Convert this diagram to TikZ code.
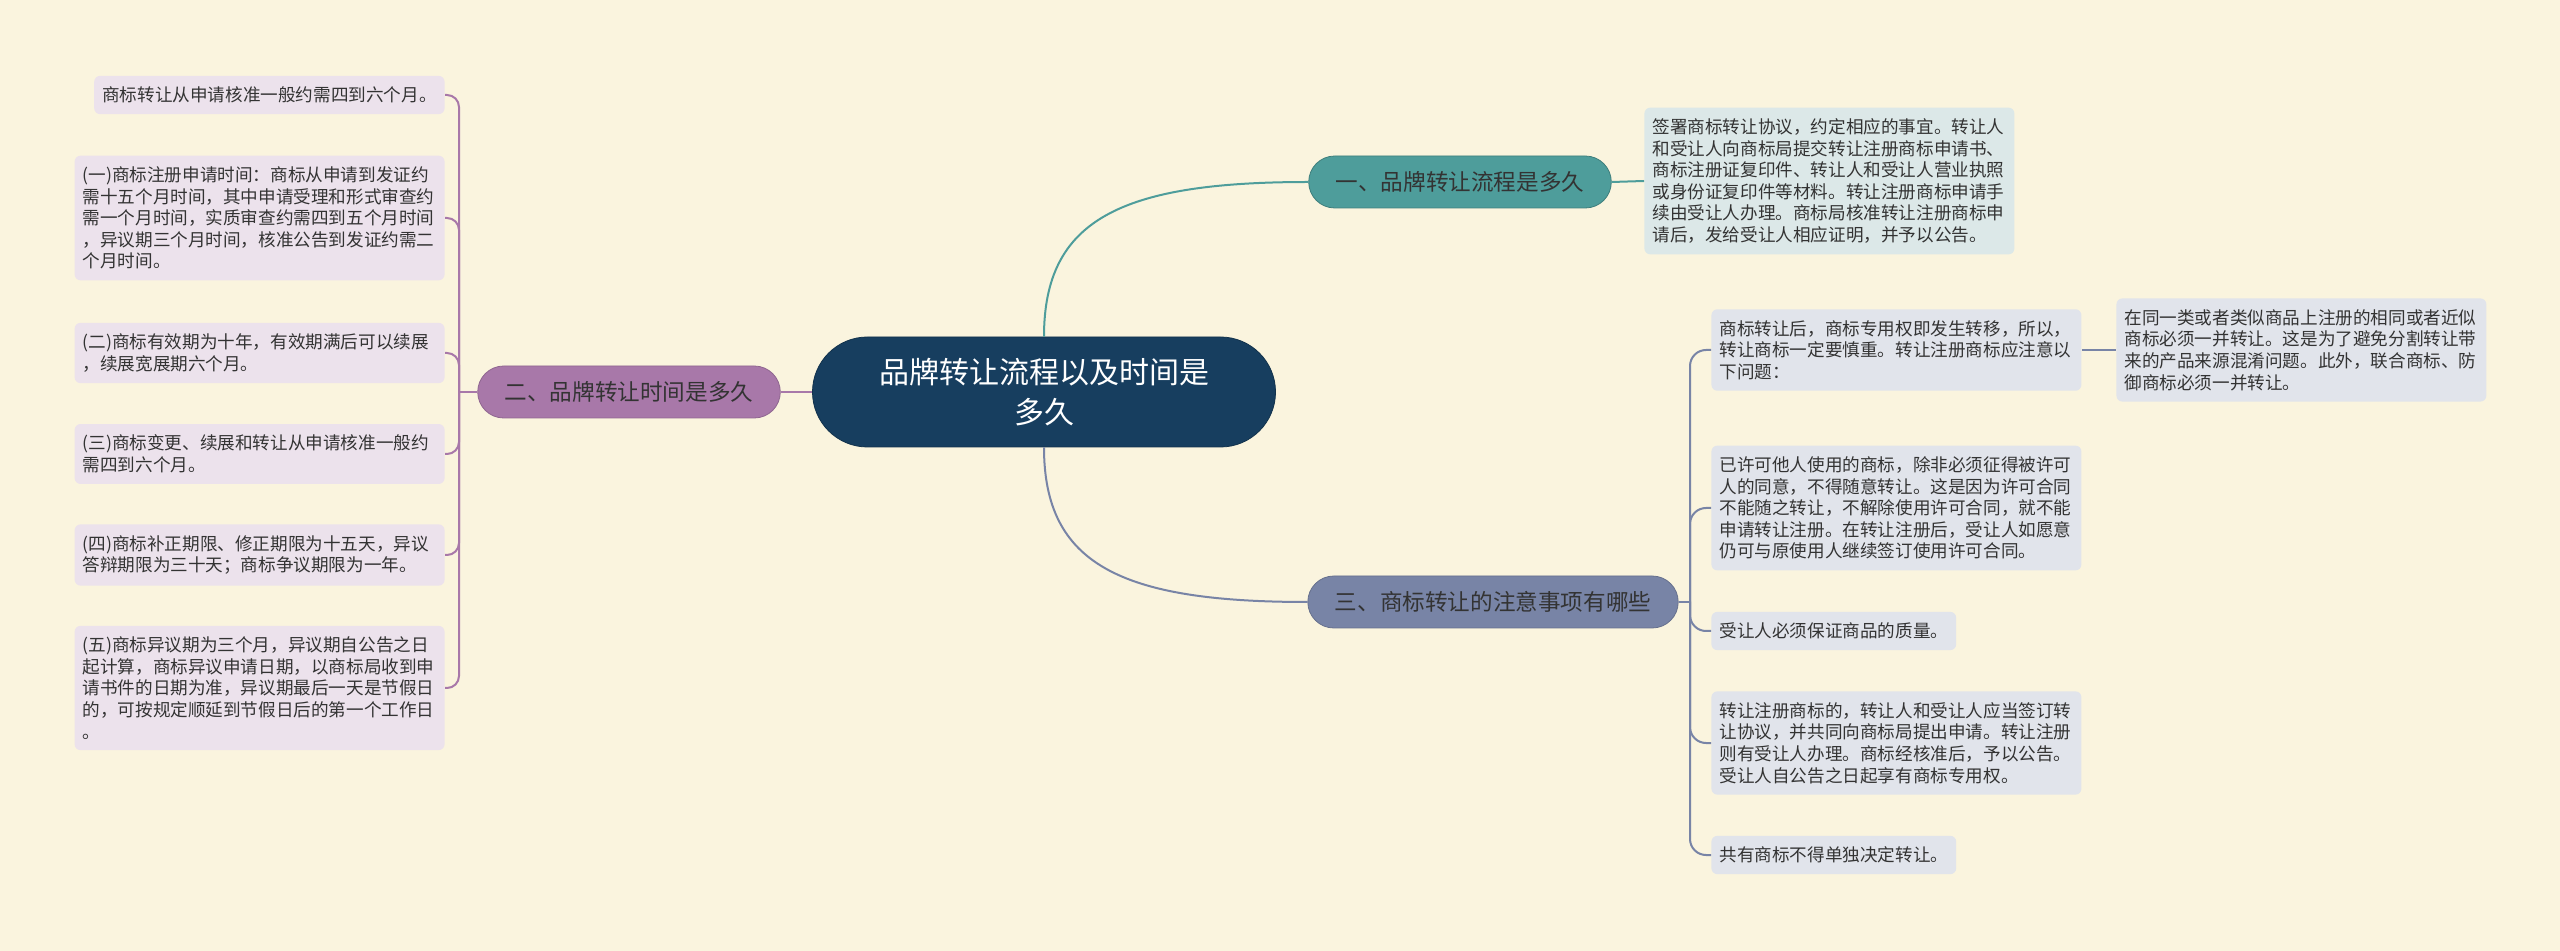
\documentclass[tikz,border=0pt]{standalone}
\usepackage{fontspec}
\setmainfont{Noto Sans CJK SC}
\definecolor{paper}{HTML}{FAF4DE}
\definecolor{navy}{HTML}{173E5F}
\definecolor{tealb}{HTML}{4E9D9B}
\definecolor{purpb}{HTML}{A878A9}
\definecolor{slateb}{HTML}{7884A6}
\definecolor{leafp}{HTML}{ECE2EC}
\definecolor{leaft}{HTML}{DCE8E8}
\definecolor{leafs}{HTML}{E1E4EB}
\definecolor{ink}{HTML}{333333}
\begin{document}
\begin{tikzpicture}[x=.5pt,y=-.5pt,
  leaf/.style={rounded corners=3pt,inner xsep=4pt,inner ysep=5.5pt,align=left,text=ink,font=\fontsize{8.8}{10.8}\selectfont},
  wide/.style={leaf,text width=177pt},
  branch/.style={rounded corners=13pt,minimum height=26pt,inner xsep=13.5pt,text=ink,font=\fontsize{11.3}{13}\selectfont},
  link/.style={line width=1pt}]
\fill[paper] (0,0) rectangle (2560,951);
\useasboundingbox (0,0) rectangle (2560,951);
% centre and main branches
\node[fill=navy,draw=navy!80!black,rounded corners=27.5pt,minimum width=231.5pt,minimum height=55pt,align=center,text=white,font=\fontsize{15}{20}\selectfont] (c) at (1044,392) {品牌转让流程以及时间是\\多久};
\node[branch,fill=tealb,draw=tealb!80!black] (b1) at (1460,182) {一、品牌转让流程是多久};
\node[branch,fill=purpb,draw=purpb!85!black] (b2) at (629,392) {二、品牌转让时间是多久};
\node[branch,fill=slateb,draw=slateb!85!black] (b3) at (1493,602) {三、商标转让的注意事项有哪些};
% right side
\node[wide,fill=leaft,anchor=west] (r1) at (1644,181) {签署商标转让协议，约定相应的事宜。转让人\\和受让人向商标局提交转让注册商标申请书、\\商标注册证复印件、转让人和受让人营业执照\\或身份证复印件等材料。转让注册商标申请手\\续由受让人办理。商标局核准转让注册商标申\\请后，发给受让人相应证明，并予以公告。};
\node[wide,fill=leafs,anchor=west] (r2) at (1711,350) {商标转让后，商标专用权即发生转移，所以，\\转让商标一定要慎重。转让注册商标应注意以\\下问题：};
\node[wide,fill=leafs,anchor=west] (r2a) at (2116,350) {在同一类或者类似商品上注册的相同或者近似\\商标必须一并转让。这是为了避免分割转让带\\来的产品来源混淆问题。此外，联合商标、防\\御商标必须一并转让。};
\node[wide,fill=leafs,anchor=west] (r3) at (1711,508) {已许可他人使用的商标，除非必须征得被许可\\人的同意，不得随意转让。这是因为许可合同\\不能随之转让，不解除使用许可合同，就不能\\申请转让注册。在转让注册后，受让人如愿意\\仍可与原使用人继续签订使用许可合同。};
\node[leaf,fill=leafs,anchor=west] (r4) at (1711,631) {受让人必须保证商品的质量。};
\node[wide,fill=leafs,anchor=west] (r5) at (1711,743) {转让注册商标的，转让人和受让人应当签订转\\让协议，并共同向商标局提出申请。转让注册\\则有受让人办理。商标经核准后，予以公告。\\受让人自公告之日起享有商标专用权。};
\node[leaf,fill=leafs,anchor=west] (r6) at (1711,855) {共有商标不得单独决定转让。};
% left side
\node[leaf,fill=leafp,anchor=east] (l1) at (445,95) {商标转让从申请核准一般约需四到六个月。};
\node[wide,fill=leafp,anchor=east] (l2) at (445,218) {(一)商标注册申请时间：商标从申请到发证约\\需十五个月时间，其中申请受理和形式审查约\\需一个月时间，实质审查约需四到五个月时间\\，异议期三个月时间，核准公告到发证约需二\\个月时间。};
\node[wide,fill=leafp,anchor=east] (l3) at (445,353) {(二)商标有效期为十年，有效期满后可以续展\\，续展宽展期六个月。};
\node[wide,fill=leafp,anchor=east] (l4) at (445,454) {(三)商标变更、续展和转让从申请核准一般约\\需四到六个月。};
\node[wide,fill=leafp,anchor=east] (l5) at (445,555) {(四)商标补正期限、修正期限为十五天，异议\\答辩期限为三十天；商标争议期限为一年。};
\node[wide,fill=leafp,anchor=east] (l6) at (445,688) {(五)商标异议期为三个月，异议期自公告之日\\起计算，商标异议申请日期，以商标局收到申\\请书件的日期为准，异议期最后一天是节假日\\的，可按规定顺延到节假日后的第一个工作日\\。};
% connectors
\draw[link,tealb] (c.north) .. controls (1044,220) and (1120,182) .. (b1.west);
\draw[link,slateb] (c.south) .. controls (1044,564) and (1120,602) .. (b3.west);
\draw[link,purpb] (c.west) -- (b2.east);
\draw[link,tealb] (b1.east) -- (r1.west);
\draw[link,slateb] (r2.east) -- (r2a.west);
\coordinate (sl) at (459,392);\coordinate (sr) at (1690,602);
\draw[link,purpb] (b2.west) -- (sl);
\foreach \n in {l1,l2,l3,l4,l5,l6}{\draw[link,purpb,rounded corners=6pt] (sl) |- (\n.east);}
\draw[link,slateb] (b3.east) -- (sr);
\foreach \n in {r2,r3,r4,r5,r6}{\draw[link,slateb,rounded corners=8pt] (sr) |- (\n.west);}
\end{tikzpicture}
\end{document}
